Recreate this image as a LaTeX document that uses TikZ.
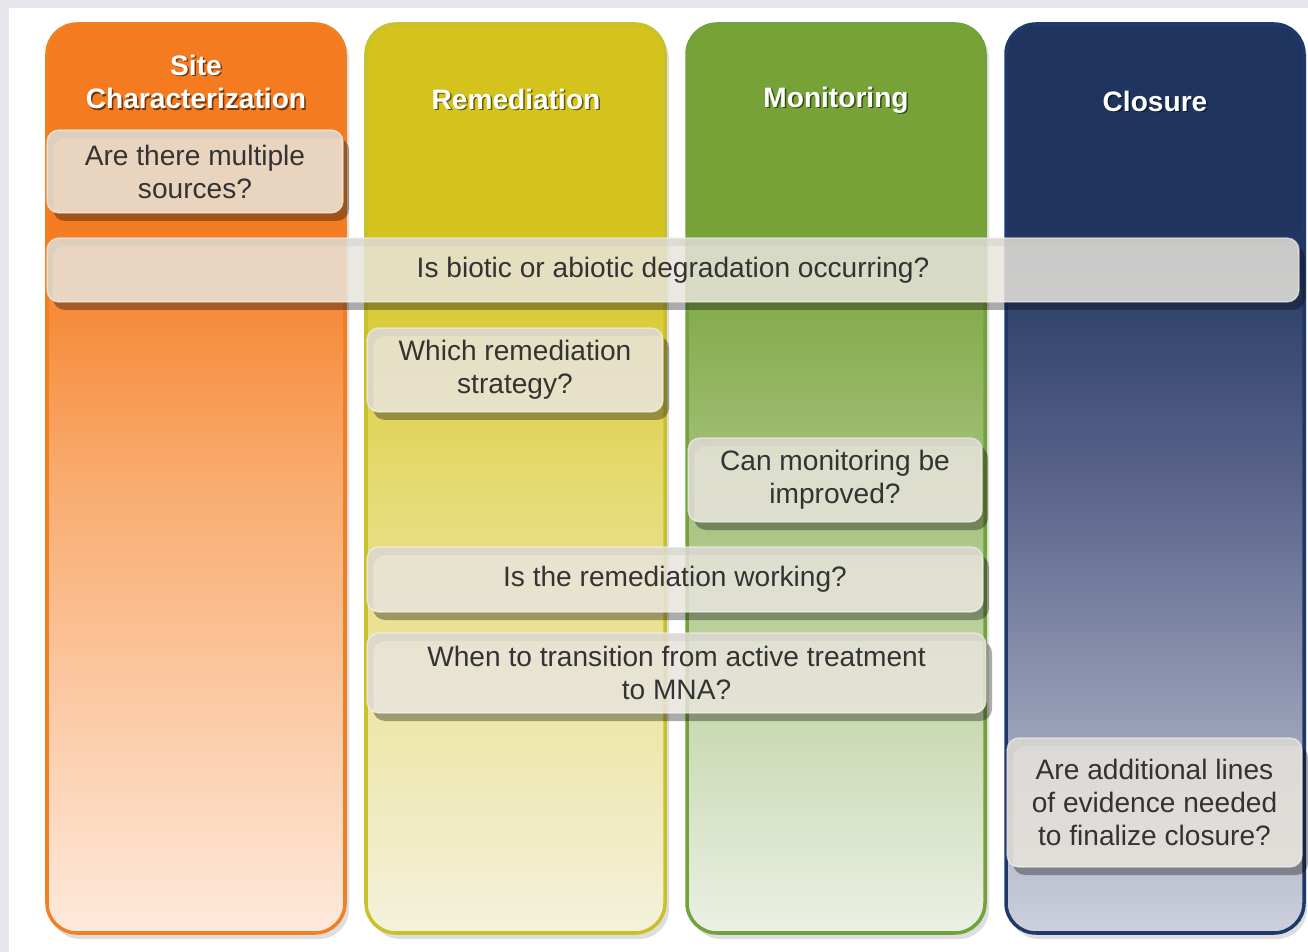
\documentclass[tikz,border=0pt]{standalone}
\usepackage{fontspec}
\setmainfont{Liberation Sans}
\definecolor{bgout}{HTML}{E6E7EC}
\definecolor{orT}{HTML}{F47B20}\definecolor{orM}{HTML}{F9AB6E}\definecolor{orB}{HTML}{FEE9DC}\definecolor{orL}{HTML}{F08024}
\definecolor{yeT}{HTML}{D3C31C}\definecolor{yeM}{HTML}{E5DA70}\definecolor{yeB}{HTML}{F4F1DC}\definecolor{yeL}{HTML}{C9C12A}
\definecolor{grT}{HTML}{76A237}\definecolor{grM}{HTML}{A3C07A}\definecolor{grB}{HTML}{EBF0E4}\definecolor{grL}{HTML}{72A33A}
\definecolor{nvT}{HTML}{1F345F}\definecolor{nvM}{HTML}{59638A}\definecolor{nvB}{HTML}{CDD0DC}\definecolor{nvL}{HTML}{1F3A6A}
\definecolor{qfill}{HTML}{E8E4DC}
\definecolor{qtext}{HTML}{333333}
\pgfdeclareverticalshading{orshade}{100bp}{color(0bp)=(orB); color(25bp)=(orB); color(50bp)=(orM); color(64bp)=(orT); color(75bp)=(orT); color(100bp)=(orT)}
\pgfdeclareverticalshading{yeshade}{100bp}{color(0bp)=(yeB); color(25bp)=(yeB); color(50bp)=(yeM); color(64bp)=(yeT); color(75bp)=(yeT); color(100bp)=(yeT)}
\pgfdeclareverticalshading{grshade}{100bp}{color(0bp)=(grB); color(25bp)=(grB); color(50bp)=(grM); color(64bp)=(grT); color(75bp)=(grT); color(100bp)=(grT)}
\pgfdeclareverticalshading{nvshade}{100bp}{color(0bp)=(nvB); color(25bp)=(nvB); color(50bp)=(nvM); color(64bp)=(nvT); color(75bp)=(nvT); color(100bp)=(nvT)}
\tikzset{
  colbox/.style={rounded corners=0.6cm, line width=2pt},
  colshadow/.style={fill=black, fill opacity=0.13, rounded corners=0.6cm},
  qbox/.style={rounded corners=0.24cm, fill=qfill, fill opacity=0.85, text opacity=1,
    draw=white, draw opacity=0.55, line width=0.8pt, text=qtext,
    font=\fontsize{16}{18.8}\selectfont, align=center, inner sep=0pt},
  qshadow/.style={fill=black, fill opacity=0.33, rounded corners=0.24cm, even odd rule},
  hdr/.style={text=white, font=\fontsize{16}{19.3}\selectfont\bfseries, align=center},
  hdrsh/.style={text=black, text opacity=0.55, font=\fontsize{16}{19.3}\selectfont\bfseries, align=center}
}
% name, x1, y1, x2, y2, text
\newcommand\qbox[6]{%
  \fill[qshadow] (#2+6,#3+8) rectangle (#4+6,#5+8) (#2,#3) rectangle (#4,#5);
  \node[qbox, minimum width={(#4-#2)*0.02cm}, minimum height={(#5-#3)*0.02cm}]
    (#1) at ({(#2+#4)/2},{(#3+#5)/2}) {#6};}
\begin{document}
\begin{tikzpicture}[x=0.02cm, y=-0.02cm]
\useasboundingbox (0,0) rectangle (1308,952);
\fill[bgout] (0,0) rectangle (1308,952);
\fill[white] (9,8) rectangle (1308,952);
% column shadows
\fill[colshadow] (50,29) rectangle (349,939);
\fill[colshadow] (370,29) rectangle (669,939);
\fill[colshadow] (691,29) rectangle (989,939);
\fill[colshadow] (1009,29) rectangle (1307,939);
% columns
\shadedraw[shading=orshade, draw=orL, colbox] (47,24) rectangle (345,933);
\shadedraw[shading=yeshade, draw=yeL, colbox] (366,24) rectangle (665,933);
\shadedraw[shading=grshade, draw=grL, colbox] (687,24) rectangle (985,933);
\shadedraw[shading=nvshade, draw=nvL, colbox] (1006,24) rectangle (1304,933);
% headers (shadow, then text)
\node[hdrsh] (h1s) at (197.5,83.5) {Site\\Characterization};
\node[hdr] (h1) at (196,82) {Site\\Characterization};
\node[hdrsh] (h2s) at (517.5,100.5) {Remediation};
\node[hdr] (h2) at (516,99) {Remediation};
\node[hdrsh] (h3s) at (837.5,101.5) {Monitoring};
\node[hdr] (h3) at (836,100) {Monitoring};
\node[hdrsh] (h4s) at (1156.5,102.5) {Closure};
\node[hdr] (h4) at (1155,101) {Closure};
% question boxes
\qbox{q1}{47}{130}{343}{213}{Are there multiple\\sources?}
\qbox{q2}{47}{238}{1299}{302}{Is biotic or abiotic degradation occurring?}
\qbox{q3}{367}{328}{663}{412}{Which remediation\\strategy?}
\qbox{q4}{688}{438}{982}{522}{Can monitoring be\\improved?}
\qbox{q5}{367}{547}{983}{612}{Is the remediation working?}
\qbox{q6}{367}{633}{986}{713}{When to transition from active treatment\\to MNA?}
\qbox{q7}{1007}{738}{1302}{867}{Are additional lines\\of evidence needed\\to finalize closure?}
\end{tikzpicture}
\end{document}
